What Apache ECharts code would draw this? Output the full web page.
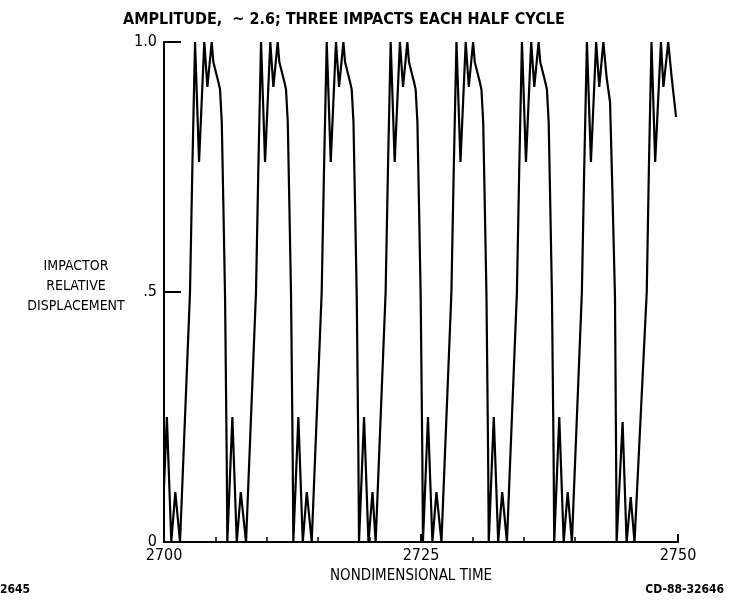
<!DOCTYPE html>
<html><head><meta charset="utf-8">
<script src="https://cdn.jsdelivr.net/npm/echarts@6/dist/echarts.min.js"></script>
<style>html,body{margin:0;padding:0;background:#fff}#c{width:739px;height:600px}</style>
</head><body><div id="c"></div>
<script>
// ---- text ----
const titleText = 'AMPLITUDE,  ~ 2.6; THREE IMPACTS EACH HALF CYCLE';
const yAxisTitle = ['IMPACTOR', 'RELATIVE', 'DISPLACEMENT'];
const xAxisTitle = 'NONDIMENSIONAL TIME';
const leftCode = '2645';
const rightCode = 'CD-88-32646';
// ---- ticks ----
const xTickValues = [2700, 2725, 2750];
const yTickValues = [0, 0.5, 1.0];
const yTickLabels = ['0', '.5', '1.0'];
// ---- data: [nondimensional time, impactor relative displacement] ----
const lead = [[2700.00,0.11],[2700.28,0.25],[2700.71,0],[2701.10,0.10]];
const cycle1 = [[2701.56,0],[2702.53,0.5],[2702.76,0.75],[2703.02,1],[2703.41,0.76],[2703.92,1],[2704.22,0.91],[2704.64,1],[2704.80,0.96],[2705.29,0.92],[2705.45,0.905],[2705.62,0.84],[2705.77,0.68],[2705.94,0.49],[2706.10,0.17],[2706.16,0],[2706.65,0.25],[2707.08,0],[2707.47,0.10]];
const cycle2 = [[2707.98,0],[2708.95,0.5],[2709.18,0.75],[2709.44,1],[2709.83,0.76],[2710.34,1],[2710.64,0.91],[2711.06,1],[2711.22,0.96],[2711.71,0.92],[2711.87,0.905],[2712.04,0.84],[2712.19,0.68],[2712.36,0.49],[2712.52,0.17],[2712.58,0],[2713.07,0.25],[2713.50,0],[2713.89,0.10]];
const cycle3 = [[2714.37,0],[2715.34,0.5],[2715.57,0.75],[2715.83,1],[2716.22,0.76],[2716.73,1],[2717.03,0.91],[2717.45,1],[2717.61,0.96],[2718.10,0.92],[2718.26,0.905],[2718.43,0.84],[2718.58,0.68],[2718.75,0.49],[2718.91,0.17],[2718.97,0],[2719.46,0.25],[2719.89,0],[2720.28,0.10]];
const cycle4 = [[2720.59,0],[2721.56,0.5],[2721.79,0.75],[2722.05,1],[2722.44,0.76],[2722.95,1],[2723.25,0.91],[2723.67,1],[2723.83,0.96],[2724.32,0.92],[2724.48,0.905],[2724.65,0.84],[2724.80,0.68],[2724.97,0.49],[2725.13,0.17],[2725.19,0],[2725.68,0.25],[2726.11,0],[2726.50,0.10]];
const cycle5 = [[2726.99,0],[2727.96,0.5],[2728.19,0.75],[2728.45,1],[2728.84,0.76],[2729.35,1],[2729.65,0.91],[2730.07,1],[2730.23,0.96],[2730.72,0.92],[2730.88,0.905],[2731.05,0.84],[2731.20,0.68],[2731.37,0.49],[2731.53,0.17],[2731.59,0],[2732.08,0.25],[2732.51,0],[2732.90,0.10]];
const cycle6 = [[2733.36,0],[2734.33,0.5],[2734.56,0.75],[2734.82,1],[2735.21,0.76],[2735.72,1],[2736.02,0.91],[2736.44,1],[2736.60,0.96],[2737.09,0.92],[2737.25,0.905],[2737.42,0.84],[2737.57,0.68],[2737.74,0.49],[2737.90,0.17],[2737.96,0],[2738.45,0.25],[2738.88,0],[2739.27,0.10]];
const cycle7 = [[2739.68,0],[2740.65,0.5],[2740.88,0.75],[2741.14,1],[2741.53,0.76],[2742.04,1],[2742.34,0.91],[2742.74,1],[2743.05,0.93],[2743.39,0.88],[2743.62,0.70],[2743.87,0.49],[2743.98,0.17],[2744.03,0],[2744.61,0.24],[2745.00,0],[2745.40,0.09]];
const cycle8 = [[2745.77,0],[2746.96,0.5],[2747.17,0.75],[2747.42,1],[2747.78,0.76],[2748.34,1],[2748.58,0.91],[2749.05,1],[2749.38,0.93],[2749.81,0.85]];

const displacement = [].concat(lead, cycle1, cycle2, cycle3, cycle4, cycle5, cycle6, cycle7, cycle8);

const FONT = '"Liberation Sans Narrow", "DejaVu Sans Condensed", "Arial Narrow", sans-serif';
const chart = echarts.init(document.getElementById('c'), null, {renderer: 'canvas'});
chart.setOption({
  backgroundColor: '#ffffff',
  animation: false,
  title: {
    text: titleText, left: 118, top: 7,
    textStyle: {fontFamily: FONT, fontSize: 16, fontWeight: 'bold', color: '#000'}
  },
  grid: {left: 164, right: 61, top: 42, bottom: 58, containLabel: false},
  xAxis: {
    type: 'value', min: xTickValues[0], max: xTickValues[xTickValues.length - 1],
    interval: xTickValues[1] - xTickValues[0],
    axisLine: {show: true, lineStyle: {color: '#000', width: 2}},
    axisTick: {show: true, inside: true, length: 8, lineStyle: {color: '#000', width: 2}},
    minorTick: {show: true, splitNumber: 5, length: 5, lineStyle: {color: '#000', width: 1.5}},
    axisLabel: {color: '#000', fontFamily: FONT, fontSize: 16, margin: 6,
      formatter: function (v) { return String(v); }},
    splitLine: {show: false}, minorSplitLine: {show: false}
  },
  yAxis: {
    type: 'value', min: yTickValues[0], max: yTickValues[yTickValues.length - 1],
    interval: yTickValues[1] - yTickValues[0],
    axisLine: {show: true, lineStyle: {color: '#000', width: 2}},
    axisTick: {show: true, inside: true, length: 17, lineStyle: {color: '#000', width: 2}},
    axisLabel: {
      color: '#000', fontFamily: FONT, fontSize: 16, margin: 7,
      formatter: function (v) { const i = yTickValues.indexOf(v); return i >= 0 ? yTickLabels[i] : ''; }
    },
    splitLine: {show: false}
  },
  graphic: [
    {type: 'text', x: 76, y: 256, style: {text: yAxisTitle.join('\n'), fontFamily: FONT, fontSize: 14, lineHeight: 20, fill: '#000', align: 'center', verticalAlign: 'top'}},
    {type: 'text', x: 411, y: 569, style: {text: xAxisTitle, fontFamily: FONT, fontSize: 15, fill: '#000', align: 'center', verticalAlign: 'top'}},
    {type: 'text', x: 0, y: 584, style: {text: leftCode, fontFamily: FONT, fontSize: 12, fontWeight: 'bold', fill: '#000', align: 'left', verticalAlign: 'top'}},
    {type: 'text', x: 724, y: 584, style: {text: rightCode, fontFamily: FONT, fontSize: 12, fontWeight: 'bold', fill: '#000', align: 'right', verticalAlign: 'top'}}
  ],
  series: [{
    type: 'line', data: displacement, showSymbol: false, smooth: false,
    lineStyle: {color: '#000', width: 2.2}, z: 3
  }]
});
</script></body></html>
